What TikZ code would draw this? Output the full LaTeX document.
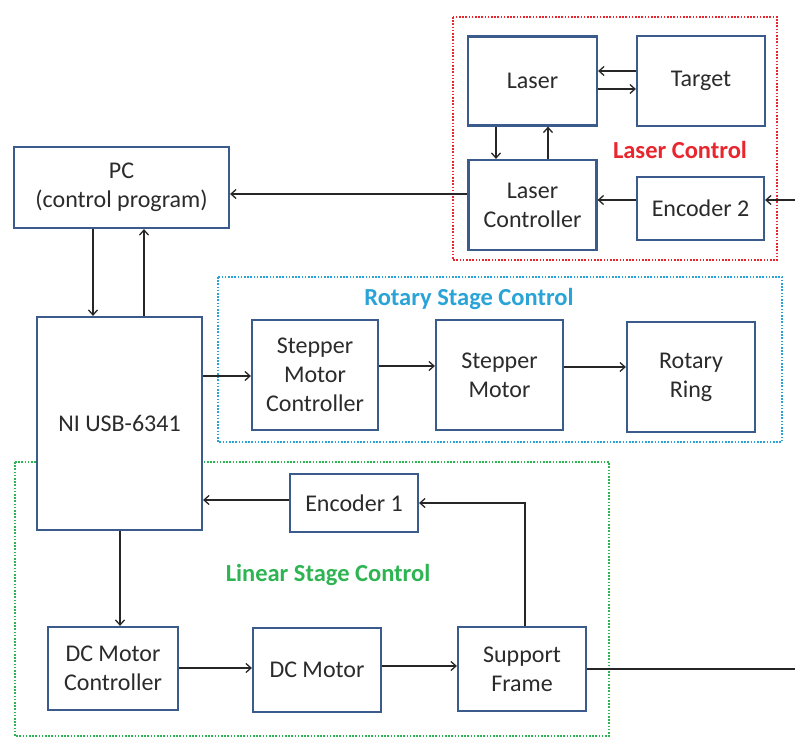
\documentclass[tikz,border=0pt]{standalone}
\usepackage{fontspec}
\setmainfont{Carlito}
\usetikzlibrary{arrows.meta,calc}
\definecolor{boxc}{HTML}{3B5B8C}
\definecolor{redc}{HTML}{E8262E}
\definecolor{bluec}{HTML}{2AA3D6}
\definecolor{greenc}{HTML}{2FB453}
\definecolor{txtc}{HTML}{2B2B2B}
\begin{document}
\begin{tikzpicture}[x=1pt,y=-1pt,
  blk/.style={draw=boxc,line width=2.2pt,fill=white,inner sep=0pt,align=center,
    text=txtc,font=\fontsize{24}{29}\selectfont},
  arr/.style={draw=black!85,line width=1.5pt,-{Straight Barb[length=5pt,width=9pt,line width=1.3pt]}},
  ln/.style={draw=black!85,line width=1.5pt},
  grp/.style={line width=2pt,dash pattern=on 1.6pt off 1.6pt},
  grplbl/.style={font=\fontsize{24.5}{28}\selectfont\bfseries}]
\useasboundingbox (0,0) rectangle (795,738);
% group frames
\draw[grp,draw=redc] (453,17) rectangle (777,260);
\draw[grp,draw=bluec] (218,277) rectangle (782,442);
\draw[grp,draw=greenc] (15,462) rectangle (609,736);
\node[grplbl,text=redc] (lclbl) at (680,150) {Laser Control};
\node[grplbl,text=bluec] (rslbl) at (469,299) {Rotary Stage Control};
\node[grplbl,text=greenc] (lslbl) at (328,575) {Linear Stage Control};
% blocks
\node[blk,minimum width=129pt,minimum height=89pt] (laser) at (532.5,81) {Laser};
\node[blk,minimum width=128pt,minimum height=90pt] (target) at (701,81) {Target};
\node[blk,minimum width=128pt,minimum height=90pt] (lasctrl) at (532.5,205) {Laser\\Controller};
\node[blk,minimum width=127pt,minimum height=63pt] (enc2) at (700.5,208.5) {Encoder 2};
\node[blk,minimum width=215pt,minimum height=81pt] (pc) at (121.5,187.5) {PC\\(control program)};
\node[blk,minimum width=165pt,minimum height=213pt] (ni) at (119.5,423.5) {NI USB-6341};
\node[blk,minimum width=126pt,minimum height=110pt] (smc) at (315,375) {Stepper\\Motor\\Controller};
\node[blk,minimum width=127pt,minimum height=110pt] (sm) at (499.5,375) {Stepper\\Motor};
\node[blk,minimum width=128pt,minimum height=110pt] (rr) at (691,377) {Rotary\\Ring};
\node[blk,minimum width=128pt,minimum height=58pt] (enc1) at (354,503) {Encoder 1};
\node[blk,minimum width=130pt,minimum height=83pt] (dmc) at (113,668.5) {DC Motor\\Controller};
\node[blk,minimum width=128pt,minimum height=84pt] (dm) at (317,670) {DC Motor};
\node[blk,minimum width=128pt,minimum height=84pt] (sf) at (522,669) {Support\\Frame};
\coordinate (rin) at (795,200);
\coordinate (rout) at (795,670);
% connectors
\draw[arr] ([yshift=10pt]target.west) -- ([yshift=10pt]laser.east);
\draw[arr] ([yshift=-8pt]laser.east) -- ([yshift=-8pt]target.west);
\draw[arr] ([xshift=-36.5pt]laser.south) -- ([xshift=-36.5pt]lasctrl.north);
\draw[arr] ([xshift=15.5pt]lasctrl.north) -- ([xshift=15.5pt]laser.south);
\draw[arr] ($(enc2.west)+(0,-8.5)$) coordinate (t1) -- (t1 -| lasctrl.east);
\draw[arr] (rin) -- (rin -| enc2.east);
\draw[arr] ($(lasctrl.west)+(0,-11)$) coordinate (t2) -- (t2 -| pc.east);
\draw[arr] ($(pc.south)+(-28.5,0)$) coordinate (t3) -- (t3 |- ni.north);
\draw[arr] ($(ni.north)+(24.5,0)$) coordinate (t4) -- (t4 |- pc.south);
\coordinate (t5) at ($(smc.west)+(0,1)$);
\draw[arr] (t5 -| ni.east) -- (t5);
\draw[arr] ($(smc.east)+(0,-9)$) coordinate (t6) -- (t6 -| sm.west);
\draw[arr] ($(sm.east)+(0,-8)$) coordinate (t7) -- (t7 -| rr.west);
\draw[arr] ($(enc1.west)+(0,-3)$) coordinate (t8) -- (t8 -| ni.east);
\draw[arr] ($(sf.north)+(3,0)$) |- (enc1.east);
\draw[arr] ($(ni.south)+(0.5,0)$) coordinate (t9) -- (t9 |- dmc.north);
\draw[arr] ($(dmc.east)+(0,-0.5)$) coordinate (t10) -- (t10 -| dm.west);
\draw[arr] ($(dm.east)+(0,-4)$) coordinate (t11) -- (t11 -| sf.west);
\draw[ln] (sf.east) -- (sf.east -| rout);
\end{tikzpicture}
\end{document}
